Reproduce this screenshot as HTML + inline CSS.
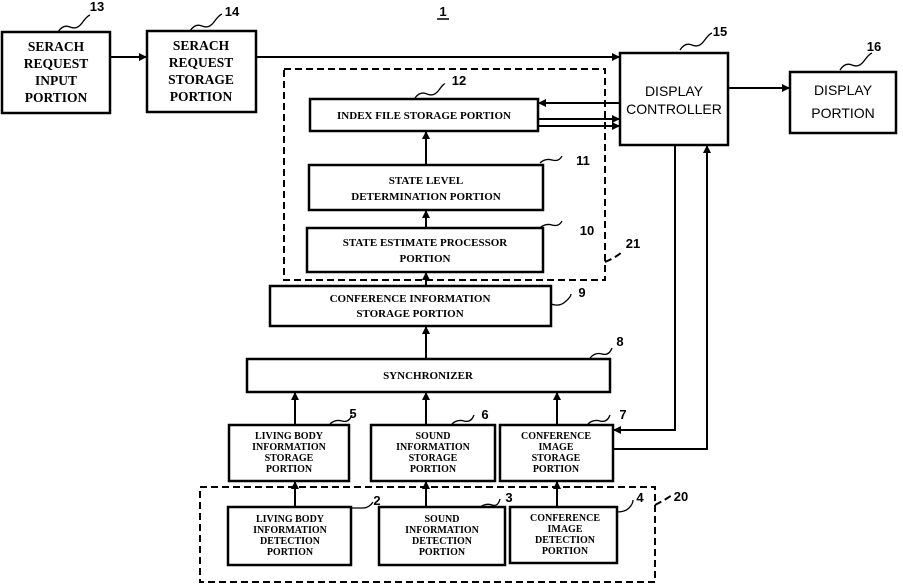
<!DOCTYPE html>
<html><head><style>body{margin:0;background:#fff}svg{display:block}text{font-family:"Liberation Serif",serif;font-weight:bold;fill:#000}</style></head><body>
<svg width="903" height="585" viewBox="0 0 903 585" xmlns="http://www.w3.org/2000/svg">
<defs><marker id="a" markerWidth="8" markerHeight="8" refX="7" refY="4" orient="auto" markerUnits="userSpaceOnUse"><path d="M0,0 L8,4 L0,8 z" fill="#000"/></marker></defs>
<g fill="none" stroke="#000" stroke-width="2.5">
<rect x="2" y="32" width="108" height="81"/>
<rect x="147" y="31" width="109" height="81"/>
<rect x="620" y="53" width="108" height="92"/>
<rect x="790" y="72" width="106" height="61"/>
<rect x="310" y="99" width="228" height="32"/>
<rect x="309" y="165" width="234" height="45"/>
<rect x="307" y="228" width="236" height="44"/>
<rect x="270" y="286" width="281" height="40"/>
<rect x="247" y="359" width="363" height="33"/>
<rect x="229" y="425" width="120" height="56"/>
<rect x="371" y="425" width="124" height="56"/>
<rect x="500" y="425" width="113" height="56"/>
<rect x="228" y="507" width="123" height="58"/>
<rect x="379" y="507" width="126" height="58"/>
<rect x="510" y="507" width="107" height="56"/>
</g>
<g fill="none" stroke="#000" stroke-width="2" stroke-dasharray="7,4">
<rect x="284" y="69" width="321" height="211"/>
<rect x="200" y="487" width="455" height="95"/>
<path d="M605,262 Q615,258 622,252"/><path d="M655,505 Q665,500 672,495"/>
</g>
<g fill="none" stroke="#000" stroke-width="2" marker-end="url(#a)">
<line x1="110" y1="57" x2="146" y2="57"/>
<line x1="256" y1="57" x2="619" y2="57"/>
<line x1="728" y1="88" x2="789" y2="88"/>
<line x1="620" y1="103" x2="539" y2="103"/>
<line x1="538" y1="119" x2="619" y2="119"/>
<line x1="538" y1="126" x2="619" y2="126"/>
<line x1="426" y1="165" x2="426" y2="132"/>
<line x1="426" y1="228" x2="426" y2="211"/>
<line x1="426" y1="286" x2="426" y2="273"/>
<line x1="426" y1="359" x2="426" y2="327"/>
<line x1="295" y1="425" x2="295" y2="393"/>
<line x1="426" y1="425" x2="426" y2="393"/>
<line x1="557" y1="425" x2="557" y2="393"/>
<line x1="295" y1="507" x2="295" y2="482"/>
<line x1="426" y1="507" x2="426" y2="482"/>
<line x1="557" y1="507" x2="557" y2="482"/>
<polyline points="675,145 675,430 614,430"/>
<polyline points="613,449 707,449 707,146"/>
</g>
<g fill="none" stroke="#000" stroke-width="1.3">
<path d="M58,32 q5,-8 12,-5 t12,-4 t8,-8"/><path d="M190,31 q5,-8 12,-5 t12,-4 t8,-8"/>
<path d="M680,50 q5,-8 12,-5 t12,-4 t8,-8"/><path d="M840,70 q5,-8 12,-5 t12,-4 t8,-8"/>
<path d="M415,98 q5,-7 12,-4 t12,-4 t6,-6"/><path d="M540,163 q5,-5 12,-3 t10,-4"/>
<path d="M540,228 q5,-5 12,-3 t10,-4"/><path d="M551,304 q8,3 14,-2 t6,-8"/>
<path d="M590,358 q5,-6 12,-4 t10,-6"/><path d="M330,424 q5,-5 12,-3 t10,-6"/>
<path d="M452,424 q5,-5 12,-3 t10,-6"/><path d="M588,424 q5,-5 12,-3 t10,-6"/>
<path d="M351,508 q6,0 12,0 t10,-6"/><path d="M480,507 q6,-4 12,-2 t8,-6"/><path d="M617,512 q8,0 12,-4 t4,-8"/>
</g>
<g font-size="13" text-anchor="middle" style="font-family:'Liberation Sans',sans-serif">
<text x="97" y="11" style="font-family:'Liberation Sans',sans-serif">13</text><text x="232" y="16" style="font-family:'Liberation Sans',sans-serif">14</text><text x="720" y="36" style="font-family:'Liberation Sans',sans-serif">15</text><text x="874" y="51" style="font-family:'Liberation Sans',sans-serif">16</text>
<text x="459" y="85" style="font-family:'Liberation Sans',sans-serif">12</text><text x="583" y="165" style="font-family:'Liberation Sans',sans-serif">11</text><text x="587" y="235" style="font-family:'Liberation Sans',sans-serif">10</text><text x="633" y="248" style="font-family:'Liberation Sans',sans-serif">21</text>
<text x="582" y="297" style="font-family:'Liberation Sans',sans-serif">9</text><text x="620" y="346" style="font-family:'Liberation Sans',sans-serif">8</text><text x="353" y="418" style="font-family:'Liberation Sans',sans-serif">5</text><text x="485" y="419" style="font-family:'Liberation Sans',sans-serif">6</text>
<text x="623" y="419" style="font-family:'Liberation Sans',sans-serif">7</text><text x="377" y="505" style="font-family:'Liberation Sans',sans-serif">2</text><text x="509" y="502" style="font-family:'Liberation Sans',sans-serif">3</text><text x="640" y="502" style="font-family:'Liberation Sans',sans-serif">4</text>
<text x="681" y="501" style="font-family:'Liberation Sans',sans-serif">20</text>
</g>
<text x="443" y="16" font-size="13" text-anchor="middle" style="font-family:'Liberation Sans',sans-serif">1</text>
<line x1="437" y1="19" x2="449" y2="19" stroke="#000" stroke-width="1.5"/>
<g font-size="13.5" text-anchor="middle">
<text x="56" y="51">SERACH</text><text x="56" y="68">REQUEST</text><text x="56" y="85">INPUT</text><text x="56" y="102">PORTION</text>
<text x="201" y="50">SERACH</text><text x="201" y="67">REQUEST</text><text x="201" y="84">STORAGE</text><text x="201" y="101">PORTION</text>
</g>
<g font-size="14" text-anchor="middle">
<text x="674" y="96" style="font-family:'Liberation Sans',sans-serif;font-weight:normal">DISPLAY</text><text x="674" y="114" style="font-family:'Liberation Sans',sans-serif;font-weight:normal">CONTROLLER</text>
<text x="843" y="95" style="font-family:'Liberation Sans',sans-serif;font-weight:normal">DISPLAY</text><text x="843" y="118" style="font-family:'Liberation Sans',sans-serif;font-weight:normal">PORTION</text>
</g>
<g font-size="11" text-anchor="middle">
<text x="424" y="119">INDEX FILE STORAGE PORTION</text>
<text x="426" y="184">STATE LEVEL</text><text x="426" y="200">DETERMINATION PORTION</text>
<text x="425" y="246">STATE ESTIMATE PROCESSOR</text><text x="425" y="262">PORTION</text>
<text x="410" y="302">CONFERENCE INFORMATION</text><text x="410" y="317">STORAGE PORTION</text>
<text x="428" y="379">SYNCHRONIZER</text>
</g>
<g font-size="10" text-anchor="middle">
<text x="289" y="439">LIVING BODY</text><text x="289" y="450">INFORMATION</text><text x="289" y="461">STORAGE</text><text x="289" y="472">PORTION</text>
<text x="433" y="439">SOUND</text><text x="433" y="450">INFORMATION</text><text x="433" y="461">STORAGE</text><text x="433" y="472">PORTION</text>
<text x="556" y="439">CONFERENCE</text><text x="556" y="450">IMAGE</text><text x="556" y="461">STORAGE</text><text x="556" y="472">PORTION</text>
<text x="290" y="522">LIVING BODY</text><text x="290" y="533">INFORMATION</text><text x="290" y="544">DETECTION</text><text x="290" y="555">PORTION</text>
<text x="442" y="522">SOUND</text><text x="442" y="533">INFORMATION</text><text x="442" y="544">DETECTION</text><text x="442" y="555">PORTION</text>
<text x="565" y="521">CONFERENCE</text><text x="565" y="532">IMAGE</text><text x="565" y="543">DETECTION</text><text x="565" y="554">PORTION</text>
</g>
</svg>
</body></html>
